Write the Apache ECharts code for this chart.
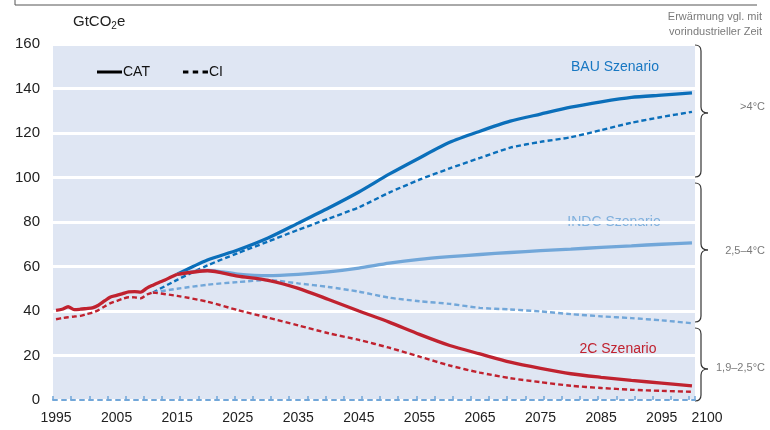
<!DOCTYPE html>
<html><head><meta charset="utf-8">
<script src="https://cdn.jsdelivr.net/npm/echarts@6/dist/echarts.min.js"></script>
<style>html,body{margin:0;padding:0;background:#fff}#c{width:770px;height:430px}</style>
</head><body><div id="c"></div>
<script>
// ---- data ----
var yAxisTicks = [0, 20, 40, 60, 80, 100, 120, 140, 160];
var histYears = [1995,1996,1997,1998,1999,2000,2001,2002,2003,2004,2005,2006,2007,2008,2009,2010,2011,2012,2013,2014,2015];
var histCAT = [40.3,40.8,41.9,40.6,40.8,41.1,41.4,42.6,44.5,46.3,47.0,47.8,48.6,48.7,48.5,50.3,51.6,52.8,53.9,55.3,56.5];
var histCIYears = [1995,1996,1997,1998,1999,2000,2001,2002,2003,2004,2005,2006,2007,2008,2009,2010,2011];
var histCI = [36.3,36.8,37.2,37.5,37.8,38.6,39.3,40.4,42.0,43.5,44.5,45.5,46.2,46.1,45.7,47.4,48.3];
var scenYears = [2015,2020,2025,2030,2035,2040,2045,2050,2055,2060,2065,2070,2075,2080,2085,2090,2095,2100];
var catBAU  = [56.5,62.9,67.4,72.8,79.5,86.3,93.5,101.5,108.8,115.8,120.8,125.3,128.5,131.6,134.0,136.0,137.0,138.0];
var catINDC = [56.5,58.3,56.6,55.9,56.5,57.6,59.3,61.5,63.2,64.4,65.4,66.3,67.1,67.8,68.6,69.3,70.0,70.6];
var cat2C   = [56.5,58.1,55.7,53.8,50.2,45.2,40.0,35.0,29.5,24.5,20.7,17.0,14.2,11.8,10.2,8.8,7.6,6.3];
var ciYears = [2011,2015,2020,2025,2030,2035,2040,2045,2050,2055,2060,2065,2070,2075,2080,2085,2090,2095,2100];
var ciBAU  = [48.3,54.0,60.5,66.0,71.2,76.5,81.5,86.6,93.2,99.0,104.1,108.8,113.4,116.0,118.1,121.3,124.6,127.2,129.5];
var ciINDC = [48.3,50.0,51.8,53.0,53.9,52.4,50.8,48.7,46.0,44.4,43.2,41.4,40.7,39.8,38.6,37.6,36.8,35.8,34.5];
var ci2C   = [48.3,46.8,44.2,40.4,37.0,33.5,30.0,27.0,23.5,19.5,15.5,12.3,9.8,8.0,6.4,5.4,4.6,4.1,3.7];
var legendNames = ['CAT', 'CI'];
var scenarioLabels = ['BAU Szenario', 'INDC Szenario', '2C Szenario'];
var warmingLabels = ['>4°C', '2,5–4°C', '1,9–2,5°C'];

// ---- build ----
var categories = [];
for (var y = 1995; y <= 2100; y++) categories.push(String(y));
function pairs(xs, vs) { return xs.map(function (x, i) { return [String(x), vs[i]]; }); }

var cBAU = '#0b6fba', cINDC = '#72a7d9', cRed = '#c0222f';
var solidW = 3.3, dashW = 2.4, dashT = [5, 3];
function line(name, data, color, dashed, z) {
  return {
    type: 'line', name: name, data: data, symbol: 'none', smooth: 0.25, z: z || 2,
    silent: true, animation: false,
    lineStyle: { color: color, width: dashed ? dashW : solidW, type: dashed ? dashT : 'solid', cap: 'butt' }
  };
}

function brace(x0, y1, ym, y2) {
  var xv = x0 + 6, xt = x0 + 13;
  var st = { stroke: '#333', fill: null, lineWidth: 1.2 };
  function bz(a, b, cx, cy, c, d) { return { type: 'bezierCurve', shape: { x1: a, y1: b, cpx1: cx, cpy1: cy, x2: c, y2: d }, style: st }; }
  function ln(a, b, c, d) { return { type: 'line', shape: { x1: a, y1: b, x2: c, y2: d }, style: st }; }
  return { type: 'group', children: [
    bz(x0, y1, xv, y1, xv, y1 + 6),
    ln(xv, y1 + 6, xv, ym - 6),
    bz(xv, ym - 6, xv, ym, xt, ym),
    bz(xt, ym, xv, ym, xv, ym + 6),
    ln(xv, ym + 6, xv, y2 - 6),
    bz(xv, y2 - 6, xv, y2, x0, y2)
  ] };
}

var chart = echarts.init(document.getElementById('c'), null, { renderer: 'canvas' });
var font = 'Liberation Sans, Arial, sans-serif';
chart.setOption({
  animation: false,
  textStyle: { fontFamily: font },
  grid: { left: 53, right: 75, top: 44, bottom: 30, show: true, backgroundColor: '#dfe6f3', borderWidth: 0 },
  legend: {
    left: 92, top: 60, itemWidth: 25, itemHeight: 3, itemGap: 33, symbolKeepAspect: false,
    textStyle: { fontSize: 14, color: '#111', fontFamily: font, padding: [0, 0, 0, -4] },
    data: [
      { name: legendNames[0], icon: 'path://M0,0h25v3h-25z' },
      { name: legendNames[1], icon: 'path://M0,0h5v3h-5z M9,0h5v3h-5z M18,0h5v3h-5z' }
    ]
  },
  xAxis: {
    type: 'category', data: categories, boundaryGap: true,
    axisLine: { show: true, lineStyle: { color: '#72a7d9', width: 2, type: [4, 5] } },
    axisTick: { show: true, inside: true, length: 4, interval: 2, lineStyle: { color: '#72a7d9', width: 1.5 } },
    axisLabel: {
      fontSize: 14, color: '#222', margin: 11, fontFamily: font,
      interval: function (i) { return i % 10 === 0 || i === 105; },
      formatter: function (v) { return v === '2100' ? '{r|' + v + '}' : v; },
      rich: { r: { fontSize: 14, color: '#222', padding: [0, 0, 0, 30], fontFamily: font } }
    },
    splitLine: { show: false }
  },
  yAxis: {
    type: 'value', min: 0, max: 160, interval: 20,
    axisLine: { show: false }, axisTick: { show: false },
    axisLabel: { fontSize: 15, color: '#222', margin: 13, fontFamily: font },
    splitLine: { show: true, lineStyle: { color: '#ffffff', width: 3 } }
  },
  series: [
    { type: 'line', name: legendNames[0], data: [], symbol: 'none', lineStyle: { color: '#000', width: 2.5 }, itemStyle: { color: '#000' } },
    { type: 'line', name: legendNames[1], data: [], symbol: 'none', lineStyle: { color: '#000', width: 2.5, type: [4, 3] }, itemStyle: { color: '#000' } },
    line('CI BAU', pairs(ciYears, ciBAU), cBAU, true, 2),
    line('CI INDC', pairs(ciYears, ciINDC), cINDC, true, 2),
    line('CI 2C', pairs(ciYears, ci2C), cRed, true, 3),
    line('CI hist', pairs(histCIYears, histCI), cRed, true, 3),
    line('CAT BAU', pairs(scenYears, catBAU), cBAU, false, 4),
    line('CAT INDC', pairs(scenYears, catINDC), cINDC, false, 4),
    line('CAT 2C', pairs(scenYears, cat2C), cRed, false, 5),
    line('CAT hist', pairs(histYears, histCAT), cRed, false, 5)
  ],
  graphic: [
    { type: 'line', shape: { x1: 15, y1: 5, x2: 757, y2: 5 }, style: { stroke: '#555', lineWidth: 1 } },
    { type: 'line', shape: { x1: 15, y1: 0, x2: 15, y2: 5 }, style: { stroke: '#555', lineWidth: 1 } },
    { type: 'text', x: 73, y: 12, style: { text: 'GtCO{s|2}e', fontSize: 15, fill: '#222', fontFamily: font,
        rich: { s: { fontSize: 10, fill: '#222', padding: [9, 0, 0, 0], fontFamily: font } } } },
    { type: 'text', x: 762, y: 9, style: { text: 'Erwärmung vgl. mit\nvorindustrieller Zeit', align: 'right', fontSize: 11, lineHeight: 15, fill: '#7a7a7a', fontFamily: font } },
    { type: 'text', x: 615, y: 67, style: { text: scenarioLabels[0], align: 'center', verticalAlign: 'middle', fontSize: 14, fill: '#1777c2', fontFamily: font } },
    { type: 'text', x: 614, y: 222, style: { text: scenarioLabels[1], align: 'center', verticalAlign: 'middle', fontSize: 14, fill: '#7fb0dd', fontFamily: font } },
    { type: 'text', x: 618, y: 349, style: { text: scenarioLabels[2], align: 'center', verticalAlign: 'middle', fontSize: 14, fill: '#c0222f', fontFamily: font } },
    brace(695, 45, 113, 177),
    brace(695, 183, 250, 322),
    brace(695, 328, 369, 401),
    { type: 'text', x: 765, y: 107, style: { text: warmingLabels[0], align: 'right', verticalAlign: 'middle', fontSize: 11, fill: '#7a7a7a', fontFamily: font } },
    { type: 'text', x: 765, y: 251, style: { text: warmingLabels[1], align: 'right', verticalAlign: 'middle', fontSize: 11, fill: '#7a7a7a', fontFamily: font } },
    { type: 'text', x: 765, y: 368, style: { text: warmingLabels[2], align: 'right', verticalAlign: 'middle', fontSize: 11, fill: '#7a7a7a', fontFamily: font } }
  ]
});
</script></body></html>
